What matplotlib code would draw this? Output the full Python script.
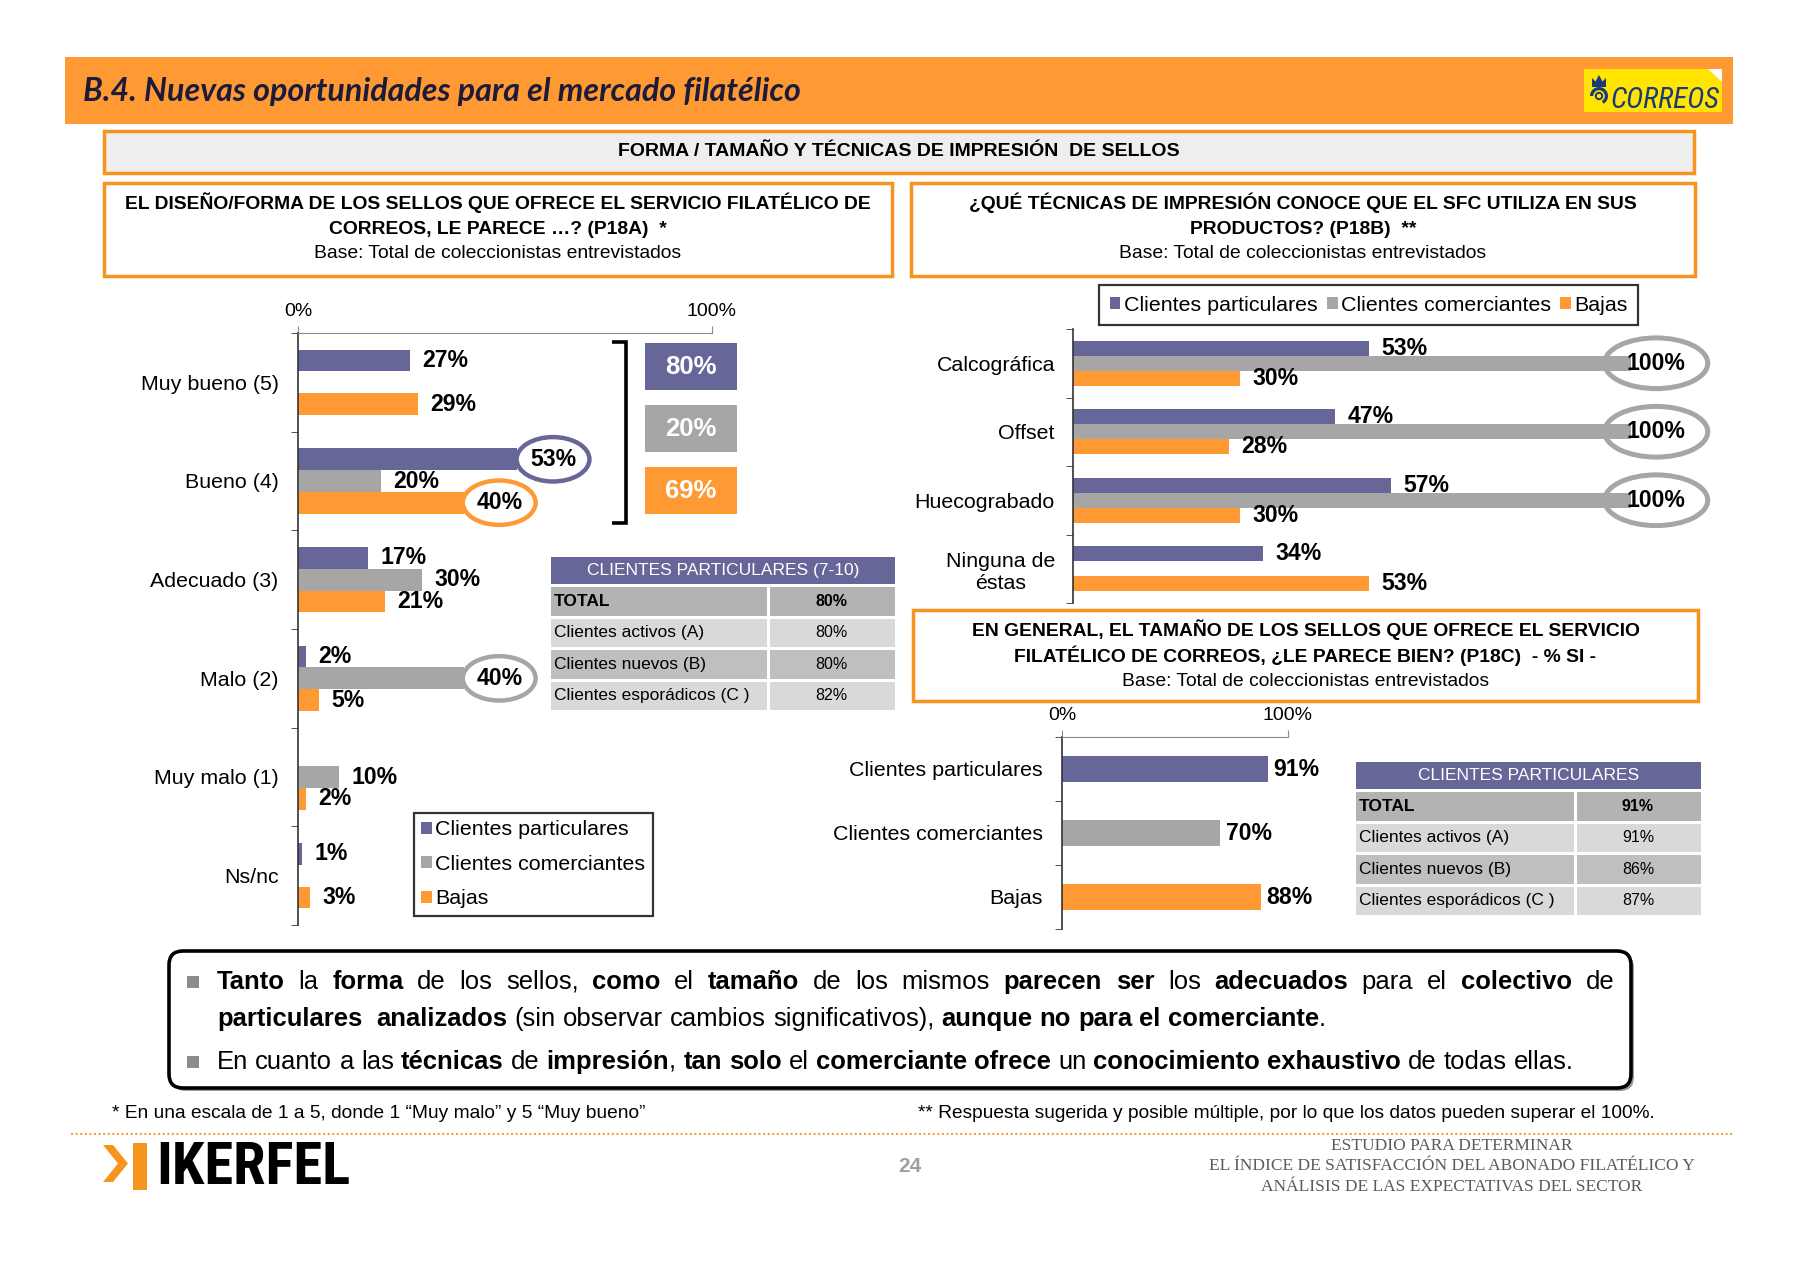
import numpy as np
import matplotlib
matplotlib.use('Agg')
import matplotlib.pyplot as plt
from matplotlib.patches import Rectangle, Ellipse, FancyBboxPatch, Polygon, Circle, Wedge
from matplotlib.ticker import FixedLocator
from matplotlib import font_manager

# ---------------- data ----------------
series_names = ['Clientes particulares', 'Clientes comerciantes', 'Bajas']

design_categories = ['Muy bueno (5)', 'Bueno (4)', 'Adecuado (3)', 'Malo (2)', 'Muy malo (1)', 'Ns/nc']
design_particulares = [27, 53, 17, 2, 0, 1]
design_comerciantes = [0, 20, 30, 40, 10, 0]
design_bajas = [29, 40, 21, 5, 2, 3]
design_top2 = [80, 20, 69]

tech_categories = ['Calcográfica', 'Offset', 'Huecograbado', 'Ninguna de\néstas']
tech_particulares = [53, 47, 57, 34]
tech_comerciantes = [100, 100, 100, 0]
tech_bajas = [30, 28, 30, 53]

size_categories = ['Clientes particulares', 'Clientes comerciantes', 'Bajas']
size_values = [91, 70, 88]

table_row_labels = ['TOTAL', 'Clientes activos (A)', 'Clientes nuevos (B)', 'Clientes esporádicos (C )']
table1_title = 'CLIENTES PARTICULARES (7-10)'
table1_values = ['80%', '80%', '80%', '82%']
table2_title = 'CLIENTES PARTICULARES'
table2_values = ['91%', '91%', '86%', '87%']

summary_lines = [
    "**Tanto** la **forma** de los sellos, **como** el **tamaño** de los mismos **parecen ser** los **adecuados** para el **colectivo** de",
    "**particulares  analizados** (sin observar cambios significativos), **aunque no para el comerciante**.",
    "En cuanto a las **técnicas** de **impresión**, **tan solo** el **comerciante ofrece** un **conocimiento exhaustivo** de todas ellas.",
]

# ---------------- style ----------------
PURPLE = '#666699'
GRAY = '#A6A6A6'
ORANGE = '#FF9933'
BORDER = '#F7941D'
NAVY = '#1B3A7A'
W, H = 1800, 1261

plt.rcParams['font.family'] = ['Liberation Sans', 'DejaVu Sans']
fig = plt.figure(figsize=(W / 100, H / 100), dpi=100)
fig.patch.set_facecolor('white')
renderer = fig.canvas.get_renderer()

bg = fig.add_axes([0, 0, 1, 1], zorder=0)
bg.set_xlim(0, W); bg.set_ylim(H, 0); bg.axis('off')
fg = fig.add_axes([0, 0, 1, 1], zorder=30)
fg.set_xlim(0, W); fg.set_ylim(H, 0); fg.axis('off')

_installed = {f.name for f in font_manager.fontManager.ttflist}
NARROW = [f for f in ['Liberation Sans Narrow', 'Roboto Condensed', 'DejaVu Sans Condensed']
          if f in _installed] + ['Liberation Sans', 'DejaVu Sans']


def px_axes(x0, y0, x1, y1, z=10):
    ax = fig.add_axes([x0 / W, 1 - y1 / H, (x1 - x0) / W, (y1 - y0) / H], zorder=z)
    ax.patch.set_visible(False)
    return ax


def fit(t, target_w):
    w = t.get_window_extent(renderer).width
    t.set_fontsize(t.get_fontsize() * target_w / w)


# ---------------- header ----------------
bg.add_patch(Rectangle((65, 57), 1668, 67, fc=ORANGE, ec='none'))
t = bg.text(83, 92, 'B.4. Nuevas oportunidades para el mercado filatélico', fontsize=19,
            fontweight='bold', fontstyle='italic', color='#1c1c3a', va='center', ha='left',
            family=['Lato', 'DejaVu Sans'])
fit(t, 717)
# Correos logo
bg.add_patch(Rectangle((1584, 69), 138, 43, fc='#FFE500', ec='none'))
bg.add_patch(Polygon([[1708, 69], [1722, 69], [1722, 82]], closed=True, fc='white', ec='none'))
bg.add_patch(Wedge((1599, 96), 9, 180, 60, width=3.2, fc=NAVY, ec='none'))
bg.add_patch(Circle((1599, 96), 3.2, fc='none', ec=NAVY, lw=1.4))
bg.add_patch(Polygon([[1592, 87], [1592, 78], [1595.5, 81.5], [1599, 75], [1602.5, 81.5],
                      [1606, 78], [1606, 87]], closed=True, fc=NAVY, ec='none'))
t = bg.text(1610, 100, 'CORREOS', fontsize=20, fontstyle='italic', color=NAVY,
            va='center', ha='left', family=NARROW)
fit(t, 109)

# gray banner
bg.add_patch(Rectangle((104, 131), 1590, 42, fc='#EEEEEE', ec=BORDER, lw=2.5))
bg.text(899, 152, 'FORMA / TAMAÑO Y TÉCNICAS DE IMPRESIÓN  DE SELLOS', fontsize=14,
        fontweight='bold', ha='center', va='center')


def question_box(x0, y0, w, h, l1, l2):
    bg.add_patch(Rectangle((x0, y0), w, h, fc='white', ec=BORDER, lw=2.5))
    cx = x0 + w / 2
    bg.text(cx, y0 + 20, l1, fontsize=13.9, fontweight='bold', ha='center', va='center')
    bg.text(cx, y0 + 46, l2, fontsize=13.9, fontweight='bold', ha='center', va='center')
    bg.text(cx, y0 + 71, 'Base: Total de coleccionistas entrevistados', fontsize=13.9,
            ha='center', va='center')


question_box(104, 183, 788, 93,
             'EL DISEÑO/FORMA DE LOS SELLOS QUE OFRECE EL SERVICIO FILATÉLICO DE',
             'CORREOS, LE PARECE …? (P18A)  *')
question_box(911, 183, 784, 93,
             '¿QUÉ TÉCNICAS DE IMPRESIÓN CONOCE QUE EL SFC UTILIZA EN SUS',
             'PRODUCTOS? (P18B)  **')
question_box(913, 610, 785, 91,
             'EN GENERAL, EL TAMAÑO DE LOS SELLOS QUE OFRECE EL SERVICIO',
             'FILATÉLICO DE CORREOS, ¿LE PARECE BIEN? (P18C)  - % SI -')

colors = [PURPLE, GRAY, ORANGE]
BH = 0.22
offsets = [-BH, 0, BH]
LBL = dict(fontsize=16.6, fontweight='bold', color='black', clip_on=False)
CAT_FS = 15.4
TICK_FS = 14

# ---------------- left chart (P18A) ----------------
axL = px_axes(298, 333, 712, 925)
nL = len(design_categories)
ycL = np.arange(nL) + 0.5
left_series = [design_particulares, design_comerciantes, design_bajas]
bars = []
for vals, col, off, name in zip(left_series, colors, offsets, series_names):
    bars.append(axL.barh(ycL + off, vals, height=BH, color=col, label=name, zorder=2))
axL.set_xlim(0, 100)
axL.set_ylim(nL, 0)
highlight_left = {(0, 1), (2, 1), (1, 3)}
for s, (vals, col, off) in enumerate(zip(left_series, colors, offsets)):
    for i, v in enumerate(vals):
        if v <= 0:
            continue
        y = ycL[i] + off
        if (s, i) in highlight_left:
            cx = v + 8.6
            axL.add_patch(Ellipse((cx, y), 17.6, 0.45, fc='white', ec=col, lw=3.2,
                                  clip_on=False, zorder=4))
            axL.text(cx, y, f'{v}%', ha='center', va='center', zorder=5, **LBL)
        else:
            axL.text(v + 3, y, f'{v}%', ha='left', va='center', zorder=5, **LBL)
for sp in ['right', 'bottom']:
    axL.spines[sp].set_visible(False)
axL.spines['top'].set_color('#8c8c8c')
axL.spines['left'].set_color('#333333')
axL.spines['left'].set_linewidth(1.2)
axL.xaxis.tick_top()
axL.set_xticks([0, 100])
axL.set_xticklabels(['0%', '100%'])
axL.tick_params(axis='x', length=5, color='#8c8c8c', labelsize=TICK_FS, pad=4)
axL.set_yticks(ycL)
axL.set_yticklabels(design_categories, fontsize=CAT_FS)
axL.tick_params(axis='y', which='major', length=0, pad=14)
axL.yaxis.set_minor_locator(FixedLocator(np.arange(nL + 1)))
axL.tick_params(axis='y', which='minor', length=5, color='#333333', direction='out')

# bracket and top-2 boxes
fg.plot([612, 626, 626, 612], [342, 342, 523, 523], color='black', lw=2.6,
        solid_joinstyle='miter', solid_capstyle='butt')
for k, (v, c) in enumerate(zip(design_top2, colors)):
    y0 = 343 + k * 62
    bg.add_patch(Rectangle((645, y0), 92, 47, fc=c, ec='none'))
    bg.text(691, y0 + 24, f'{v}%', color='white', fontsize=18.5, fontweight='bold',
            ha='center', va='center')

legL = fig.legend(handles=bars, labels=series_names, loc='upper left',
                  bbox_to_anchor=(414 / W, 1 - 813 / H), fontsize=CAT_FS, frameon=True,
                  fancybox=False, edgecolor='black', handlelength=0.5, handleheight=0.5,
                  handletextpad=0.15, borderpad=0.35, labelspacing=0.72, borderaxespad=0)
legL.get_frame().set_linewidth(1.6)
legL.set_zorder(40)

# ---------------- right chart (P18B) ----------------
axR = px_axes(1073, 329, 1631, 603)
nR = len(tech_categories)
ycR = np.arange(nR) + 0.5
right_series = [tech_particulares, tech_comerciantes, tech_bajas]
barsR = []
for vals, col, off, name in zip(right_series, colors, offsets, series_names):
    barsR.append(axR.barh(ycR + off, vals, height=BH, color=col, label=name, zorder=2))
axR.set_xlim(0, 100)
axR.set_ylim(nR, 0)
for s, (vals, col, off) in enumerate(zip(right_series, colors, offsets)):
    for i, v in enumerate(vals):
        if v <= 0:
            continue
        y = ycR[i] + off
        if s == 1 and v >= 100:
            cx = v + 4.5
            axR.add_patch(Ellipse((cx, y), 18.5, 0.74, fc='none', ec=GRAY, lw=3.6,
                                  clip_on=False, zorder=4))
            axR.text(cx, y, f'{v}%', ha='center', va='center', zorder=5, **LBL)
        else:
            axR.text(v + 2.2, y, f'{v}%', ha='left', va='center', zorder=5, **LBL)
for sp in ['right', 'bottom', 'top']:
    axR.spines[sp].set_visible(False)
axR.spines['left'].set_color('#333333')
axR.spines['left'].set_linewidth(1.2)
axR.set_xticks([])
axR.set_yticks(ycR)
axR.set_yticklabels(tech_categories, fontsize=CAT_FS)
for lab in axR.get_yticklabels():
    lab.set_multialignment('center')
axR.tick_params(axis='y', which='major', length=0, pad=13)
axR.yaxis.set_minor_locator(FixedLocator(np.arange(nR + 1)))
axR.tick_params(axis='y', which='minor', length=5, color='#333333', direction='out')

legR = fig.legend(handles=barsR, labels=series_names, loc='upper left', ncol=3,
                  bbox_to_anchor=(1099 / W, 1 - 285 / H), fontsize=CAT_FS, frameon=True,
                  fancybox=False, edgecolor='black', handlelength=0.5, handleheight=0.5,
                  handletextpad=0.15, borderpad=0.5, columnspacing=0.45, borderaxespad=0)
legR.get_frame().set_linewidth(1.6)
legR.set_zorder(40)

# ---------------- bottom-right chart (P18C) ----------------
axS = px_axes(1062, 737, 1288, 929)
nS = len(size_categories)
ycS = np.arange(nS) + 0.5
axS.barh(ycS, size_values, height=0.4, color=colors, zorder=2)
axS.set_xlim(0, 100)
axS.set_ylim(nS, 0)
for i, v in enumerate(size_values):
    axS.text(v + 2.5, ycS[i], f'{v}%', ha='left', va='center', **LBL)
for sp in ['right', 'bottom']:
    axS.spines[sp].set_visible(False)
axS.spines['top'].set_color('#8c8c8c')
axS.spines['left'].set_color('#333333')
axS.spines['left'].set_linewidth(1.2)
axS.xaxis.tick_top()
axS.set_xticks([0, 100])
axS.set_xticklabels(['0%', '100%'])
axS.tick_params(axis='x', length=5, color='#8c8c8c', labelsize=TICK_FS, pad=4)
axS.set_yticks(ycS)
axS.set_yticklabels(size_categories, fontsize=CAT_FS)
axS.tick_params(axis='y', which='major', length=0, pad=14)
axS.yaxis.set_minor_locator(FixedLocator(np.arange(nS + 1)))
axS.tick_params(axis='y', which='minor', length=5, color='#333333', direction='out')

# ---------------- tables ----------------
row_colors = ['#B3B3B3', '#D9D9D9', '#BFBFBF', '#D9D9D9']


def draw_table(x0, xs, x1, ytop, title, values):
    bg.add_patch(Rectangle((x0, ytop), x1 - x0, 27, fc=PURPLE, ec='none'))
    bg.text((x0 + x1) / 2, ytop + 14, title, color='white', fontsize=12.5,
            ha='center', va='center')
    for i, (lab, val) in enumerate(zip(table_row_labels, values)):
        ya = ytop + 30 + i * 31.5
        h = 28.5
        bg.add_patch(Rectangle((x0, ya), xs - x0 - 1.5, h, fc=row_colors[i], ec='none'))
        bg.add_patch(Rectangle((xs + 1.5, ya), x1 - xs - 1.5, h, fc=row_colors[i], ec='none'))
        wt = 'bold' if i == 0 else 'normal'
        bg.text(x0 + 3, ya + h / 2, lab, fontsize=12.5, fontweight=wt, ha='left', va='center')
        bg.text((xs + x1) / 2, ya + h / 2, val, fontsize=11.5, fontweight=wt,
                ha='center', va='center')


draw_table(551, 768, 895, 557, table1_title, table1_values)
draw_table(1356, 1575, 1701, 762, table2_title, table2_values)

# ---------------- summary box ----------------
bg.add_patch(FancyBboxPatch((172, 954), 1462, 137, boxstyle='round,pad=0,rounding_size=14',
                            fc='#9a9a9a', ec='none'))
bg.add_patch(FancyBboxPatch((169, 951), 1462, 137, boxstyle='round,pad=0,rounding_size=14',
                            fc='white', ec='black', lw=2.6))


def parse(markup):
    bold = False
    tokens = []
    extra = []
    pending = 0
    for tok in markup.split(' '):
        if tok == '':
            pending += 1
            continue
        runs = []
        parts = tok.split('**')
        for k, p in enumerate(parts):
            if k > 0:
                bold = not bold
            if p:
                runs.append((p, bold))
        tokens.append(runs)
        extra.append(pending)
        pending = 0
    return tokens, extra


def width_of(txt, size, bold):
    t = bg.text(0, 0, txt, fontsize=size, fontweight='bold' if bold else 'normal')
    w = t.get_window_extent(renderer).width
    t.remove()
    return w


def natural_width(markup, size):
    toks, extra = parse(markup)
    sp = width_of('x x', size, False) - width_of('xx', size, False)
    return (sum(width_of(r, size, b) for runs in toks for r, b in runs)
            + sp * (len(toks) - 1 + sum(extra)))


def draw_line(markup, x0, y, size, x1=None):
    toks, extra = parse(markup)
    sp = width_of('x x', size, False) - width_of('xx', size, False)
    widths = [[width_of(r, size, b) for r, b in runs] for runs in toks]
    tot = sum(sum(w) for w in widths)
    gap = sp if x1 is None else (x1 - x0 - tot) / (len(toks) - 1)
    x = x0
    for runs, ws, ex in zip(toks, widths, extra):
        x += ex * sp
        for (r, b), w in zip(runs, ws):
            bg.text(x, y, r, fontsize=size, fontweight='bold' if b else 'normal',
                    ha='left', va='center')
            x += w
        x += gap


fs = 16 * 1353 / natural_width(summary_lines[2], 16)
draw_line(summary_lines[0], 217, 982, fs, x1=1614)
draw_line(summary_lines[1], 217, 1019, fs)
draw_line(summary_lines[2], 217, 1062, fs)
for yb in (982, 1062):
    bg.add_patch(Rectangle((187, yb - 6), 12, 12, fc='#8c8c8c', ec='none'))

# ---------------- footnotes & footer ----------------
t = bg.text(112, 1113, '* En una escala de 1 a 5, donde 1 \u201cMuy malo\u201d y 5 \u201cMuy bueno\u201d',
            fontsize=12, ha='left', va='center')
fit(t, 533)
t = bg.text(918, 1113, '** Respuesta sugerida y posible múltiple, por lo que los datos pueden superar el 100%.',
            fontsize=12, ha='left', va='center')
fit(t, 741)
bg.plot([71, 1733], [1134, 1134], ls=(0, (1, 1.2)), color='#F5A040', lw=1.5)

bg.add_patch(Polygon([[103, 1145], [113, 1145], [128, 1163.5], [113, 1182], [103, 1182],
                      [118, 1163.5]], closed=True, fc=BORDER, ec='none'))
bg.add_patch(Rectangle((133, 1143), 14, 47, fc=BORDER, ec='none'))
t = bg.text(156, 1168, 'IKERFEL', fontsize=40, fontweight='bold', color='black',
            ha='left', va='center', family=NARROW)
fit(t, 194)
bg.text(910, 1166, '24', fontsize=15, fontweight='bold', color='#a0a0a0', ha='center', va='center')
SER = dict(family=['Liberation Serif', 'DejaVu Serif'], color='#5a5a5a', ha='center', va='center')
t = bg.text(1452, 1166, 'EL ÍNDICE DE SATISFACCIÓN DEL ABONADO FILATÉLICO Y', fontsize=11.5, **SER)
fit(t, 483)
fsz = t.get_fontsize()
bg.text(1452, 1146, 'ESTUDIO PARA DETERMINAR', fontsize=fsz, **SER)
bg.text(1452, 1187, 'ANÁLISIS DE LAS EXPECTATIVAS DEL SECTOR', fontsize=fsz, **SER)

fig.savefig('out.png', dpi=100, facecolor='white')
